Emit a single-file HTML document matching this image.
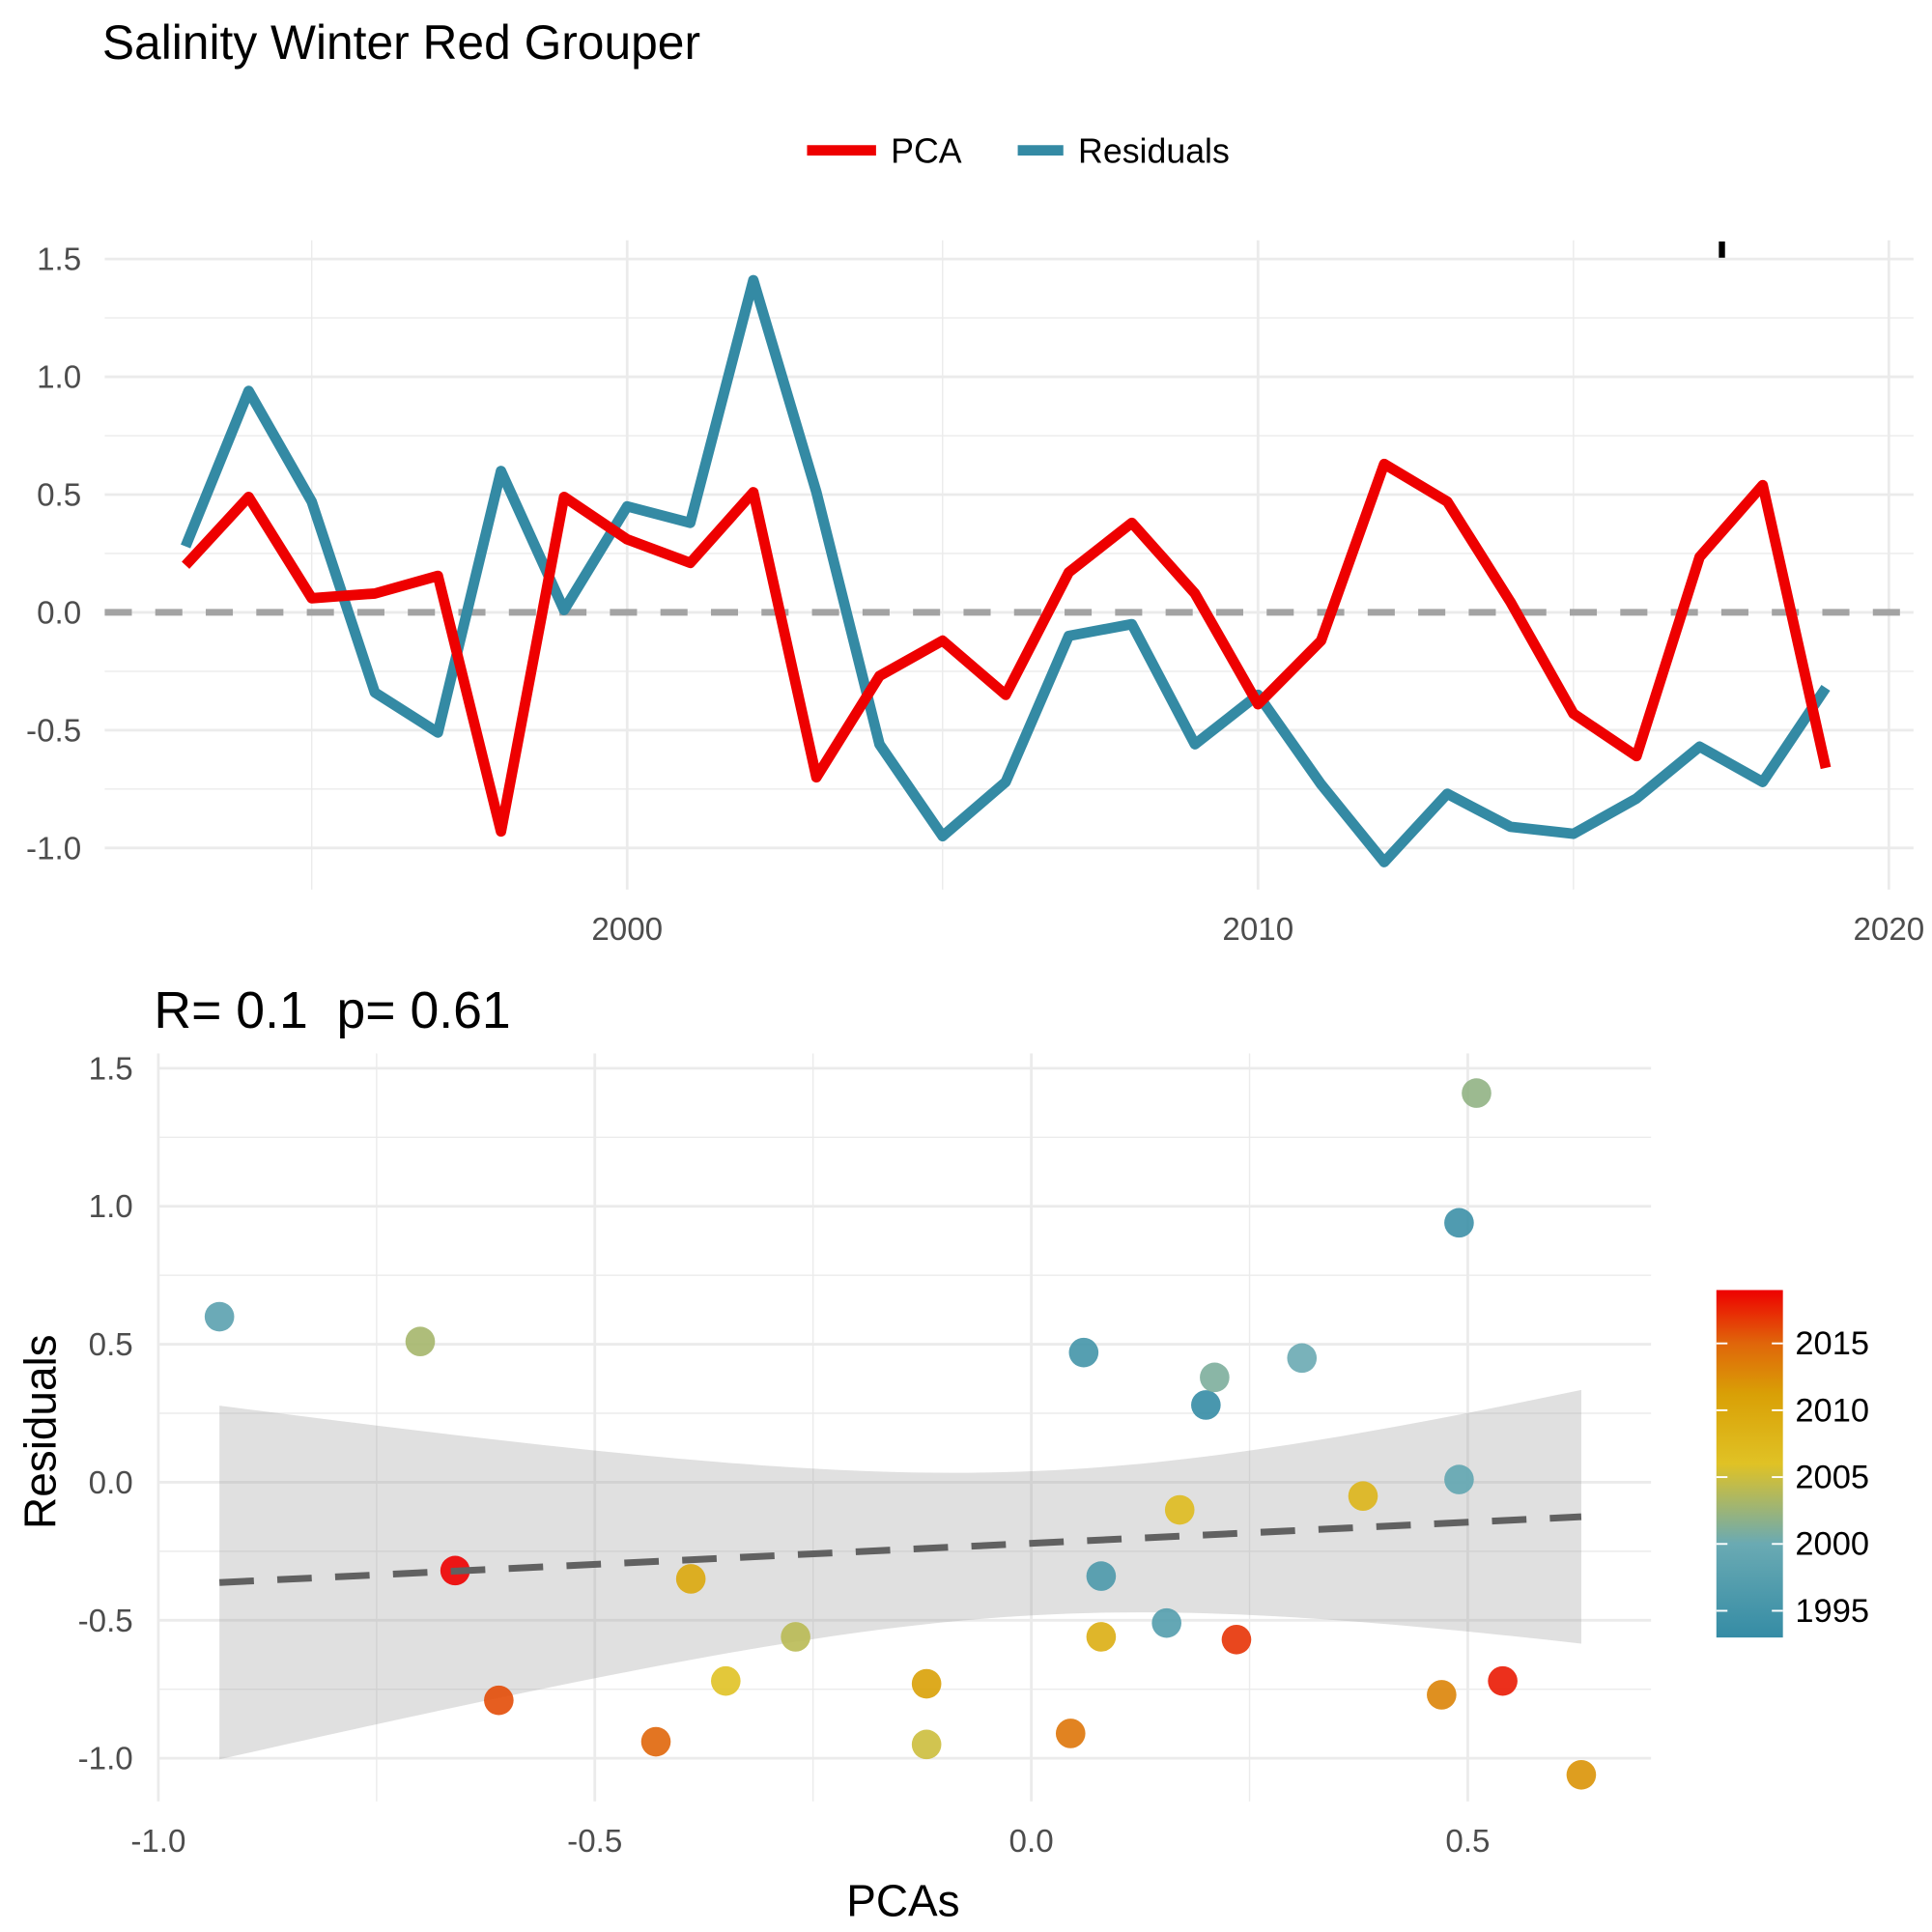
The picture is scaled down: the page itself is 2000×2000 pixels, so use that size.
<!DOCTYPE html>
<html><head><meta charset="utf-8"><style>html,body{margin:0;padding:0;background:#fff}svg{display:block}text{font-family:"Liberation Sans",Arial,sans-serif}</style></head>
<body>
<svg id="c" width="2000" height="2000" viewBox="0 0 1568 1568" xmlns="http://www.w3.org/2000/svg">
<defs>
<linearGradient id="cbg" x1="0" y1="1" x2="0" y2="0">
<stop offset="0" stop-color="#358ca5"/><stop offset="0.27" stop-color="#6aaab3"/><stop offset="0.5" stop-color="#e0c225"/><stop offset="0.7" stop-color="#d9a006"/><stop offset="0.85" stop-color="#e0640a"/><stop offset="1" stop-color="#ee0000"/>
</linearGradient>
<clipPath id="cp1"><rect x="85" y="195" width="1468" height="530"/></clipPath>
</defs>
<text x="83" y="48" font-size="39" fill="#000">Salinity Winter Red Grouper</text>
<g>
<line x1="655" y1="122" x2="711" y2="122" stroke="#ee0000" stroke-width="8.5"/>
<text x="723" y="132" font-size="28">PCA</text>
<line x1="826" y1="122" x2="863" y2="122" stroke="#348aa4" stroke-width="8.5"/>
<text x="875" y="132" font-size="28">Residuals</text>
</g>
<rect x="1395" y="196" width="5" height="15" fill="#000"/>
<g id="topg"></g>
<text x="125" y="834" font-size="42" xml:space="preserve" style="white-space:pre">R= 0.1  p= 0.61</text>
<g id="bot"></g>
<text x="733" y="1555" font-size="36" text-anchor="middle">PCAs</text>
<text transform="translate(45,1162) rotate(-90)" font-size="36" text-anchor="middle">Residuals</text>
<g>
<rect x="1393" y="1047" width="54" height="282" fill="url(#cbg)"/>
<g id="cbt"></g>
</g>
</svg>
<script>
const years=[1993,1994,1995,1996,1997,1998,1999,2000,2001,2002,2003,2004,2005,2006,2007,2008,2009,2010,2011,2012,2013,2014,2015,2016,2017,2018,2019];
const pca=[0.2,0.49,0.06,0.08,0.155,-0.93,0.49,0.31,0.21,0.51,-0.70,-0.27,-0.12,-0.35,0.17,0.38,0.08,-0.39,-0.12,0.63,0.47,0.045,-0.43,-0.61,0.235,0.54,-0.66];
const resid=[0.28,0.94,0.47,-0.34,-0.51,0.6,0.01,0.45,0.38,1.41,0.51,-0.56,-0.95,-0.72,-0.1,-0.05,-0.56,-0.35,-0.73,-1.06,-0.77,-0.91,-0.94,-0.79,-0.57,-0.72,-0.32];
const topYTicks=[-1.0,-0.5,0.0,0.5,1.0,1.5];
const topXTicks=[2000,2010,2020];
const botXTicks=[-1.0,-0.5,0.0,0.5];
const botYTicks=[-1.0,-0.5,0.0,0.5,1.0,1.5];
const cbTicks=[1995,2000,2005,2010,2015];

const NS='http://www.w3.org/2000/svg';
function mk(p,tag,a){const e=document.createElementNS(NS,tag);for(const k in a)e.setAttribute(k,a[k]);p.appendChild(e);return e;}
const topG=document.getElementById('topg'),bot=document.getElementById('bot'),cbt=document.getElementById('cbt');
const tx=y=>509+(y-2000)*51.2, ty=v=>497-v*191.2;
const bx=v=>837+v*708.5, by=v=>1203-v*224;
const fmt=v=>(v<0?'-':'')+Math.abs(v).toFixed(1);

for(let v=-1.0;v<=1.51;v+=0.25){const major=Math.abs(v*2-Math.round(v*2))<1e-6;
 const l=mk(topG,'line',{x1:85,x2:1553,y1:ty(v),y2:ty(v),stroke:'#ebebeb','stroke-width':major?2.2:1.1});
 }
for(let y=1995;y<=2020;y+=5){const major=y%10===0;
 const l=mk(topG,'line',{x1:tx(y),x2:tx(y),y1:195,y2:722,stroke:'#ebebeb','stroke-width':major?2.2:1.1});
 }
topYTicks.forEach(v=>{const t=mk(topG,'text',{x:66,y:ty(v)+9,'font-size':26,fill:'#4d4d4d','text-anchor':'end'});t.textContent=fmt(v);
 });
topXTicks.forEach(v=>{const t=mk(topG,'text',{x:tx(v),y:763,'font-size':26,fill:'#4d4d4d','text-anchor':'middle'});t.textContent=v;
 });
const z=mk(topG,'line',{x1:85,x2:1553,y1:ty(0),y2:ty(0),stroke:'#a3a3a3','stroke-width':5.5,'stroke-dasharray':'22 19'});

const g1=mk(topG,'g',{'clip-path':'url(#cp1)'});
const pr=mk(g1,'polyline',{points:years.map((y,i)=>tx(y)+','+ty(resid[i])).join(' '),fill:'none',stroke:'#348aa4','stroke-width':8.5,'stroke-linejoin':'round'});

const pp=mk(g1,'polyline',{points:years.map((y,i)=>tx(y)+','+ty(pca[i])).join(' '),fill:'none',stroke:'#ee0000','stroke-width':8.5,'stroke-linejoin':'round'});


for(let v=-1.0;v<=1.51;v+=0.25){const major=Math.abs(v*2-Math.round(v*2))<1e-6;
 const l=mk(bot,'line',{x1:128,x2:1340,y1:by(v),y2:by(v),stroke:'#ebebeb','stroke-width':major?2.2:1.1});
 }
for(let v=-1.0;v<=0.51;v+=0.25){const major=Math.abs(v*2-Math.round(v*2))<1e-6;
 const l=mk(bot,'line',{x1:bx(v),x2:bx(v),y1:855,y2:1462,stroke:'#ebebeb','stroke-width':major?2.2:1.1});
 }
botYTicks.forEach(v=>{const t=mk(bot,'text',{x:108,y:by(v)+9,'font-size':26,fill:'#4d4d4d','text-anchor':'end'});t.textContent=fmt(v);
 });
botXTicks.forEach(v=>{const t=mk(bot,'text',{x:bx(v),y:1503,'font-size':26,fill:'#4d4d4d','text-anchor':'middle'});t.textContent=fmt(v);
 });

const n=pca.length,mx=pca.reduce((a,b)=>a+b)/n,my=resid.reduce((a,b)=>a+b)/n;
let sxx=0,sxy=0;for(let i=0;i<n;i++){sxx+=(pca[i]-mx)**2;sxy+=(pca[i]-mx)*(resid[i]-my);}
const b1=sxy/sxx,b0=my-b1*mx;let sse=0;for(let i=0;i<n;i++)sse+=(resid[i]-b0-b1*pca[i])**2;
const s=Math.sqrt(sse/(n-2)),tq=2.06;
const xmin=Math.min(...pca),xmax=Math.max(...pca);
const up=[],lo=[];
for(let k=0;k<=80;k++){const x=xmin+(xmax-xmin)*k/80,f=b0+b1*x,se=s*Math.sqrt(1/n+(x-mx)**2/sxx);
 up.push(bx(x)+','+by(f+tq*se));lo.unshift(bx(x)+','+by(f-tq*se));}
const rib=mk(bot,'polygon',{points:up.concat(lo).join(' '),fill:'#999','fill-opacity':0.3});


const cs=[[0,[53,140,165]],[0.27,[106,170,179]],[0.5,[224,194,37]],[0.7,[217,160,6]],[0.85,[224,100,10]],[1,[238,0,0]]];
function col(y){const t=(y-1993)/(2019-1993);for(let i=1;i<cs.length;i++){if(t<=cs[i][0]){const a=cs[i-1],b=cs[i],u=(t-a[0])/(b[0]-a[0]);
 return 'rgb('+a[1].map((c,j)=>Math.round(c+(b[1][j]-c)*u)).join(',')+')';}}return 'rgb(238,0,0)';}
years.forEach((y,i)=>{const c=mk(bot,'circle',{cx:bx(pca[i]),cy:by(resid[i]),r:12,fill:col(y),'fill-opacity':0.9});
 });
const fl=mk(bot,'line',{x1:bx(xmin),y1:by(b0+b1*xmin),x2:bx(xmax),y2:by(b0+b1*xmax),stroke:'#616161','stroke-width':5.5,'stroke-dasharray':'28 19'});


const cby=y=>1329-(y-1993)*10.85;
cbTicks.forEach(y=>{
 const a=mk(cbt,'line',{x1:1393,x2:1402,y1:cby(y),y2:cby(y),stroke:'#fff','stroke-width':1.5});
 
 const b=mk(cbt,'line',{x1:1438,x2:1447,y1:cby(y),y2:cby(y),stroke:'#fff','stroke-width':1.5});
 
 const t=mk(cbt,'text',{x:1457,y:cby(y)+9,'font-size':27,fill:'#000'});t.textContent=y;
 });
</script>
</body></html>
